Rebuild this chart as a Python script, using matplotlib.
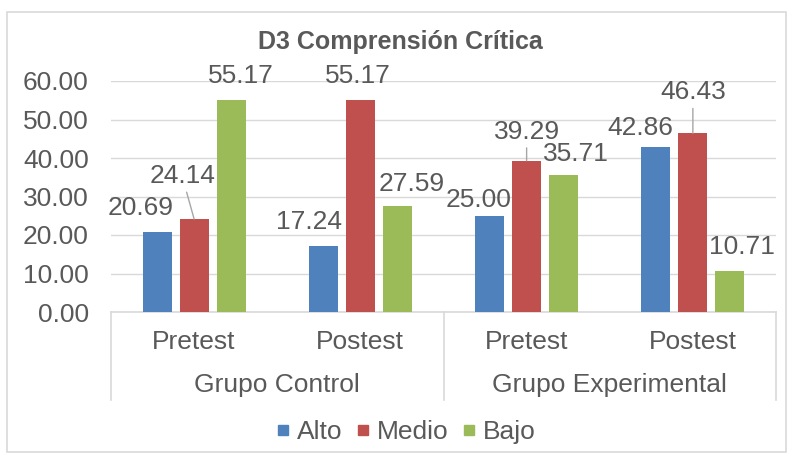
import matplotlib.pyplot as plt
import numpy as np
from matplotlib.patches import Rectangle
from matplotlib.lines import Line2D

plt.rcParams['font.family'] = ['Liberation Sans', 'DejaVu Sans']

# datos
momentos = ['Pretest', 'Postest', 'Pretest', 'Postest']
grupos = ['Grupo Control', 'Grupo Experimental']
alto = [20.69, 17.24, 25.00, 42.86]
medio = [24.14, 55.17, 39.29, 46.43]
bajo = [55.17, 27.59, 35.71, 10.71]
series = ['Alto', 'Medio', 'Bajo']

colores = ['#4f81bd', '#c0504d', '#9bbb59']
gris = '#595959'

# desplazamiento de etiquetas (pixeles) y lineas guia
desp = [[(-17, 24), (-14, 24), (-11, 16), (-16, 19)],
        [(-12, 43), (-2, 24), (0, 29), (0, 41)],
        [(10, 24), (14, 22), (12, 21), (12, 24)]]
guia = [[False] * 4,
        [True, False, True, True],
        [False] * 4]

fig = plt.figure(figsize=(7.89, 4.54), dpi=100)
fig.patches.append(Rectangle((7 / 789, 2 / 454), 779 / 789, 440 / 454, transform=fig.transFigure,
                             fill=False, edgecolor='#d9d9d9', lw=1.2))
ax = fig.add_axes([111 / 789, 1 - 312 / 454, 665 / 789, 231 / 454])

x = np.arange(len(momentos))
an = 0.174
sep = 0.2225
valores = [alto, medio, bajo]
for k, (vals, c, nom) in enumerate(zip(valores, colores, series)):
    pos = x + (k - 1) * sep
    ax.bar(pos, vals, an, color=c, label=nom, zorder=3)
    for i, (p, v) in enumerate(zip(pos, vals)):
        dx, dy = desp[k][i]
        if guia[k][i]:
            ax.annotate(f'{v:.2f}', xy=(p, v), xytext=(dx, dy), textcoords='offset pixels',
                        ha='center', va='center', fontsize=19, color=gris,
                        arrowprops=dict(arrowstyle='-', color='#a6a6a6', lw=1, shrinkA=1, shrinkB=0))
        else:
            ax.annotate(f'{v:.2f}', xy=(p, v), xytext=(dx, dy), textcoords='offset pixels',
                        ha='center', va='center', fontsize=19, color=gris)

ax.set_xlim(-0.5, 3.5)
ax.set_ylim(0, 60)
ax.set_yticks(np.arange(0, 61, 10))
ax.set_yticklabels([f'{t:.2f}' for t in np.arange(0, 61, 10)])
ax.tick_params(axis='y', length=0, pad=16, labelsize=19, labelcolor=gris)
ax.set_xticks([])
ax.grid(axis='y', color='#d9d9d9', lw=1, zorder=0)
for s in ['left', 'right', 'top']:
    ax.spines[s].set_visible(False)
ax.spines['bottom'].set_color('#d9d9d9')
ax.spines['bottom'].set_linewidth(1.2)

# eje de categorias jerarquico
tr = ax.get_xaxis_transform()
for xs in [-0.5, 1.5, 3.5]:
    ax.plot([xs, xs], [0, -0.38], transform=tr, color='#d9d9d9', lw=1.2, clip_on=False)
for i, m in enumerate(momentos):
    ax.text(i, -0.13, m, transform=tr, ha='center', va='center', fontsize=19, color=gris)
for j, g in enumerate(grupos):
    ax.text(2 * j + 0.5, -0.316, g, transform=tr, ha='center', va='center', fontsize=19, color=gris)

fig.text(400 / 789, 1 - 42 / 454, 'D3 Comprensión Crítica', ha='center', va='center',
         fontsize=18, fontweight='bold', color=gris)

handles = [Line2D([], [], marker='s', ls='', markersize=7, color=c) for c in colores]
fig.legend(handles, series, loc='center', bbox_to_anchor=(406 / 789, 1 - 432 / 454), ncol=3,
           frameon=False, fontsize=19, labelcolor=gris, handlelength=0.5, handletextpad=0.25,
           columnspacing=0.55, borderpad=0)

fig.savefig('out.png', dpi=100)
